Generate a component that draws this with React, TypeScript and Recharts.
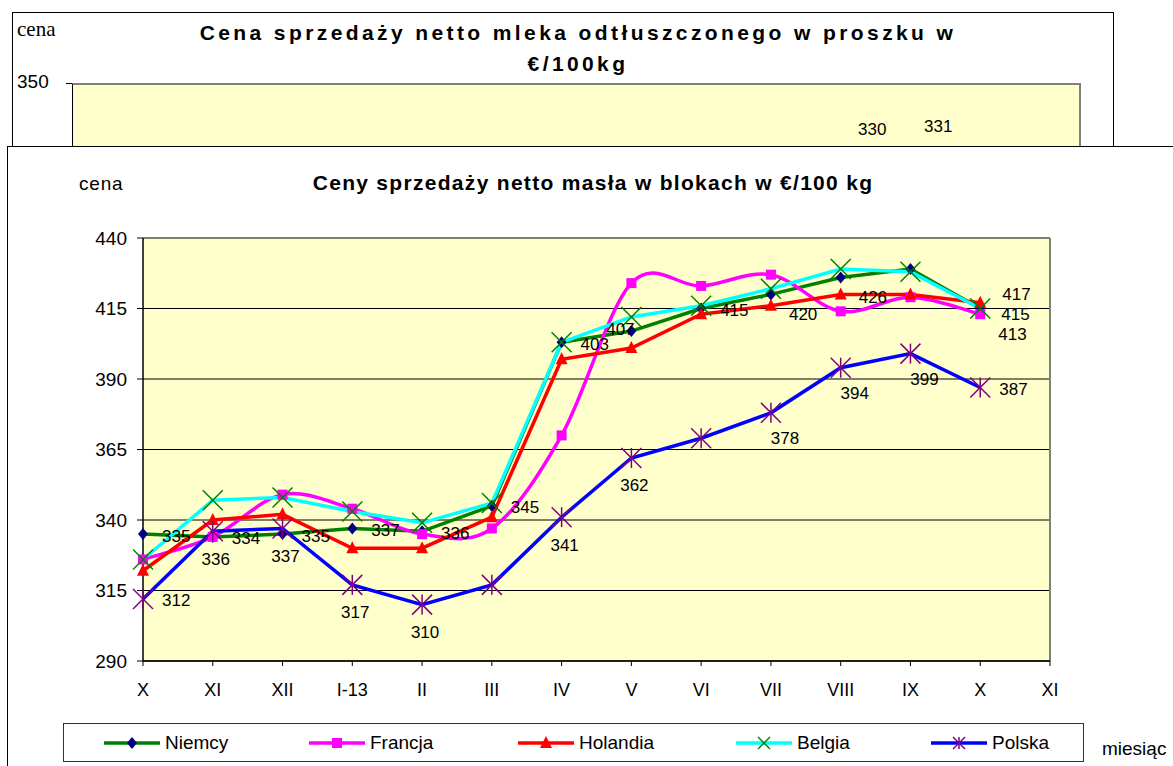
import React from "react";
import {
    LineChart, Line, XAxis, YAxis, CartesianGrid, LabelList,
} from "recharts";

// months on the category axis (last XI has no data)
const months = ["X", "XI", "XII", "I-13", "II", "III", "IV", "V", "VI", "VII", "VIII", "IX", "X", "XI"];

const niemcy = [335, 334, 335, 337, 336, 345, 403, 407, 415, 420, 426, 429, 415, null];
const francja = [326, 334, 349, 344, 335, 337, 370, 424, 423, 427, 414, 419, 413, null];
const holandia = [322, 340, 342, 330, 330, 341, 397, 401, 413, 416, 420, 420, 417, null];
const belgia = [326, 347, 348, 343, 339, 346, 403, 412, 416, 422, 429, 428, 415, null];
const polska = [312, 336, 337, 317, 310, 317, 341, 362, 369, 378, 394, 399, 387, null];

// where a value label is shown (null = no label)
const niemcyLabels = ["r", "r", "r", "r", "r", "r", "r", "l", "r", "rb", "rb", null, "rd", null];
const francjaLabels = [null, null, null, null, null, null, null, null, null, null, null, null, "rb", null];
const holandiaLabels = [null, null, null, null, null, null, null, null, null, null, null, null, "ra", null];
const polskaLabels = ["r", "b", "b", "b", "b", null, "b", "b", null, "br", "br", "br", "r", null];

const yTicks = [290, 315, 340, 365, 390, 415, 440];

const data = months.map((m, i) => ({
    m,
    niemcy: niemcy[i],
    francja: francja[i],
    holandia: holandia[i],
    belgia: belgia[i],
    polska: polska[i],
}));

const FONT = "'Liberation Sans', Arial, sans-serif";

const PLACE: Record<string, [number, number, "start" | "middle" | "end"]> = {
    r: [19, 2, "start"],
    rd: [21, 6, "start"],
    rb: [18, 20, "start"],
    ra: [22, -8, "start"],
    l: [-11, -2, "middle"],
    b: [3, 28, "middle"],
    br: [14, 26, "middle"],
};

function makeLabel(places: (string | null)[]) {
    return (props: any) => {
        const { x, y, index, value } = props;
        const p = places[index];
        if (!p || value == null || x == null) return null;
        const [dx, dy, anchor] = PLACE[p];
        return (
            <text x={x + dx} y={y + dy} textAnchor={anchor} dominantBaseline="central"
                fontSize={17} fontFamily={FONT} fill="#000">
                {value}
            </text>
        );
    };
}

// Excel-like smoothed line (Catmull-Rom through the points)
function smoothCurve(context: any) {
    let pts: number[][] = [];
    return {
        areaStart() { },
        areaEnd() { },
        lineStart() { pts = []; },
        point(x: number, y: number) { pts.push([+x, +y]); },
        lineEnd() {
            if (!pts.length) return;
            context.moveTo(pts[0][0], pts[0][1]);
            for (let i = 0; i < pts.length - 1; i++) {
                const p0 = pts[Math.max(i - 1, 0)];
                const p1 = pts[i];
                const p2 = pts[i + 1];
                const p3 = pts[Math.min(i + 2, pts.length - 1)];
                context.bezierCurveTo(
                    p1[0] + (p2[0] - p0[0]) / 6, p1[1] + (p2[1] - p0[1]) / 6,
                    p2[0] - (p3[0] - p1[0]) / 6, p2[1] - (p3[1] - p1[1]) / 6,
                    p2[0], p2[1],
                );
            }
        },
    };
}

type MarkerKind = "diamond" | "square" | "triangle" | "x" | "star";

function Marker({ kind, cx, cy, color, small }: { kind: MarkerKind; cx: number; cy: number; color: string; small?: boolean }) {
    if (kind === "diamond") {
        return <polygon points={`${cx},${cy - 6} ${cx + 5},${cy} ${cx},${cy + 6} ${cx - 5},${cy}`} fill={color} />;
    }
    if (kind === "square") {
        return <rect x={cx - 5} y={cy - 5} width={10} height={10} fill={color} />;
    }
    if (kind === "triangle") {
        return <polygon points={`${cx},${cy - 7} ${cx + 6},${cy + 5} ${cx - 6},${cy + 5}`} fill={color} />;
    }
    const r = small ? 6 : 10;
    if (kind === "x") {
        return (
            <g stroke={color} strokeWidth={1.5}>
                <line x1={cx - r} y1={cy - r} x2={cx + r} y2={cy + r} />
                <line x1={cx - r} y1={cy + r} x2={cx + r} y2={cy - r} />
            </g>
        );
    }
    return (
        <g stroke={color} strokeWidth={1.5}>
            <line x1={cx - r} y1={cy - r} x2={cx + r} y2={cy + r} />
            <line x1={cx - r} y1={cy + r} x2={cx + r} y2={cy - r} />
            <line x1={cx} y1={cy - r} x2={cx} y2={cy + r} />
        </g>
    );
}

const series = [
    { key: "niemcy", name: "Niemcy", line: "#008000", marker: "#000080", kind: "diamond" as MarkerKind, labels: niemcyLabels, smooth: false },
    { key: "francja", name: "Francja", line: "#FF00FF", marker: "#FF00FF", kind: "square" as MarkerKind, labels: francjaLabels, smooth: true },
    { key: "holandia", name: "Holandia", line: "#FF0000", marker: "#FF0000", kind: "triangle" as MarkerKind, labels: holandiaLabels, smooth: false },
    { key: "belgia", name: "Belgia", line: "#00FFFF", marker: "#008000", kind: "x" as MarkerKind, labels: null, smooth: false },
    { key: "polska", name: "Polska", line: "#0000FF", marker: "#800080", kind: "star" as MarkerKind, labels: polskaLabels, smooth: false },
];

const legendLefts = [39, 244, 453, 671, 866];

function BackChart() {
    return (
        <div style={{
            position: "absolute", left: 12, top: 12, width: 1100, height: 300,
            border: "1px solid #000", background: "#fff",
        }}>
            <div style={{ position: "absolute", left: 4, top: 4, fontFamily: "'Liberation Serif', serif", fontSize: 21 }}>cena</div>
            <div style={{
                position: "absolute", left: 0, width: 1130, top: 4, textAlign: "center",
                fontFamily: FONT, fontWeight: "bold", fontSize: 21, lineHeight: "31px", letterSpacing: 3.4,
            }}>
                Cena sprzedaży netto mleka odtłuszczonego w proszku w<br />€/100kg
            </div>
            <div style={{ position: "absolute", left: 4, top: 58, fontFamily: FONT, fontSize: 19 }}>350</div>
            <div style={{ position: "absolute", left: 53, top: 70, width: 6, height: 1, background: "#000" }} />
            <div style={{
                position: "absolute", left: 59, top: 70, width: 1006, height: 300,
                background: "#FFFFCC", borderTop: "2px solid #808080", borderRight: "2px solid #808080",
                borderLeft: "1px solid #000",
            }} />
            <div style={{ position: "absolute", left: 845, top: 107, fontFamily: FONT, fontSize: 17 }}>330</div>
            <div style={{ position: "absolute", left: 911, top: 104, fontFamily: FONT, fontSize: 17 }}>331</div>
        </div>
    );
}

export default function App() {
    return (
        <div style={{ position: "absolute", left: 0, top: 0, width: 1173, height: 766, overflow: "hidden", background: "#fff" }}>
            <BackChart />
            <div style={{
                position: "absolute", left: 7, top: 146, width: 1250, height: 700,
                border: "1px solid #000", background: "#fff",
            }}>
                <div style={{ position: "absolute", left: 71, top: 26, fontFamily: FONT, fontSize: 19, letterSpacing: 0.8 }}>cena</div>
                <div style={{
                    position: "absolute", left: 0, width: 1170, top: 24, textAlign: "center",
                    fontFamily: FONT, fontWeight: "bold", fontSize: 21, letterSpacing: 1.3,
                }}>
                    Ceny sprzedaży netto masła w blokach w €/100 kg
                </div>
                <div style={{ position: "absolute", left: 0, top: 0 }}>
                    <LineChart width={1100} height={560} data={data}
                        margin={{ top: 91, right: 58, bottom: 6, left: 0 }}>
                        <CartesianGrid horizontal vertical={false} stroke="#000" strokeWidth={1} fill="#FFFFCC" fillOpacity={1} />
                        <CartesianGrid horizontal={false} vertical stroke="#808080" strokeWidth={2}
                            verticalCoordinatesGenerator={({ offset }: any) => [offset.left + offset.width]} />
                        <XAxis dataKey="m" interval={0} tickSize={5} tickMargin={17} height={40}
                            axisLine={{ stroke: "#000", strokeWidth: 1.5 }} tickLine={{ stroke: "#000" }}
                            tick={{ fill: "#000", fontSize: 18, fontFamily: FONT }} />
                        <YAxis domain={[290, 440]} ticks={yTicks} width={135} tickSize={6} tickMargin={10}
                            axisLine={{ stroke: "#000", strokeWidth: 1.5 }} tickLine={{ stroke: "#000" }}
                            tick={{ fill: "#000", fontSize: 19, fontFamily: FONT }} />
                        {series.map((s) => (
                            <Line key={s.key} dataKey={s.key} name={s.name}
                                type={s.smooth ? (smoothCurve as any) : "linear"}
                                stroke={s.line} strokeWidth={3.5} isAnimationActive={false}
                                dot={(p: any) => (p.cx == null || p.cy == null || p.value == null)
                                    ? <g key={`${s.key}-${p.index}`} />
                                    : <Marker key={`${s.key}-${p.index}`} kind={s.kind} cx={p.cx} cy={p.cy} color={s.marker} />}
                                activeDot={false}>
                                {s.labels && <LabelList dataKey={s.key} content={makeLabel(s.labels)} />}
                            </Line>
                        ))}
                    </LineChart>
                </div>
                <div style={{
                    position: "absolute", left: 55, top: 576, width: 1019, height: 37,
                    border: "1px solid #333", background: "#fff",
                }}>
                    {series.map((s, i) => (
                        <div key={s.key} style={{
                            position: "absolute", left: legendLefts[i], top: 0, height: 37,
                            display: "flex", alignItems: "center",
                        }}>
                            <svg width={58} height={20}>
                                <line x1={1} y1={10} x2={57} y2={10} stroke={s.line} strokeWidth={3.5} />
                                <Marker kind={s.kind} cx={29} cy={10} color={s.marker} small />
                            </svg>
                            <span style={{ marginLeft: 4, fontFamily: FONT, fontSize: 19 }}>{s.name}</span>
                        </div>
                    ))}
                </div>
                <div style={{ position: "absolute", left: 1094, top: 591, fontFamily: FONT, fontSize: 19 }}>miesiąc</div>
            </div>
        </div>
    );
}
